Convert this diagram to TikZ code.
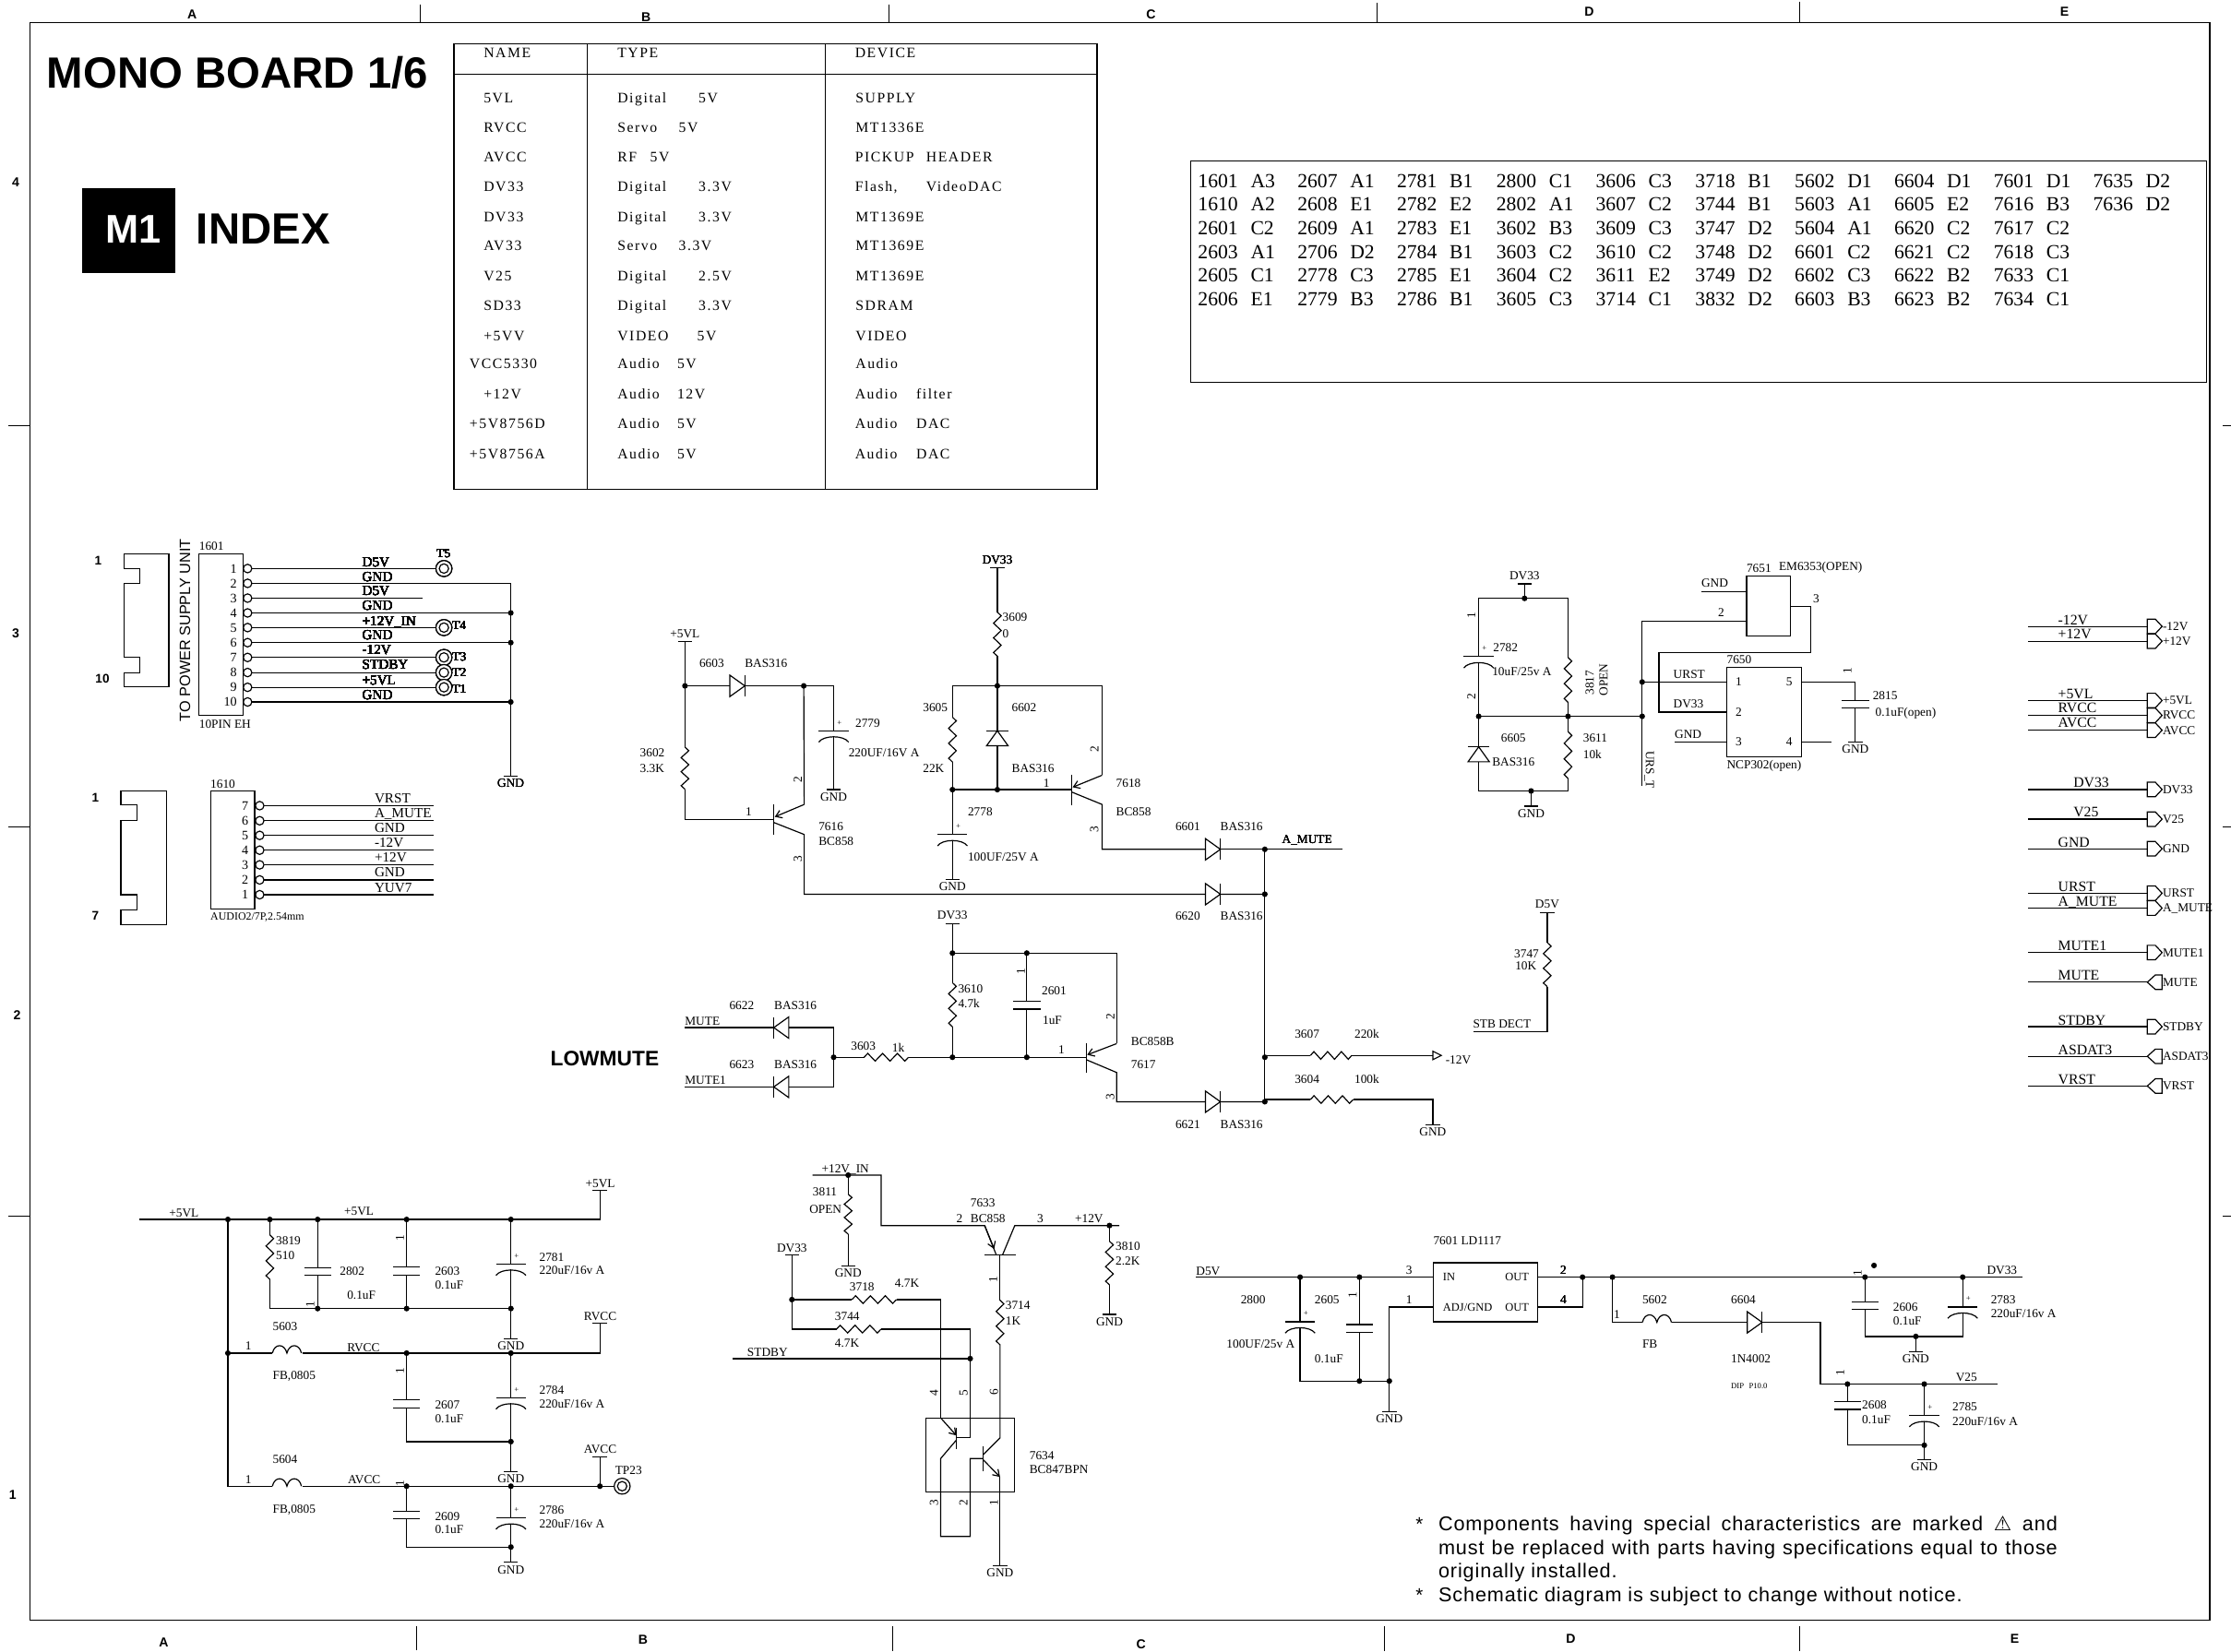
\documentclass[tikz,border=0pt]{standalone}
\usepackage{fontspec}
\setmainfont{Liberation Serif}
\setsansfont{Liberation Sans}
\newfontfamily\warnfont{DejaVu Sans}
\newfontfamily\tblfont[LetterSpace=10]{Liberation Serif}
\newfontfamily\notefont[LetterSpace=4]{Liberation Sans}
\usetikzlibrary{calc,arrows.meta}
\newlength\uu \setlength\uu{0.05cm}
\newcounter{lb}
\tikzset{lab/.style={inner sep=0pt,outer sep=0pt,text=black},
 emi/.style={-{Straight Barb[length=6pt,width=8pt]}},
 wire/.style={line width=1.1pt,line join=miter},
 tick/.style={line width=0.7pt}}
\newcommand\Tx[4][12.3]{\stepcounter{lb}\node[lab,anchor=base west] (t\thelb) at ($(#2,#3)+(0pt,-0.33*#1pt)$) {\fontsize{#1}{#1}\selectfont #4};}
\newcommand\Ce[4][12.3]{\stepcounter{lb}\node[lab,anchor=base] (t\thelb) at ($(#2,#3)+(0pt,-0.33*#1pt)$) {\fontsize{#1}{#1}\selectfont #4};}
\newcommand\Ro[4][12.3]{\stepcounter{lb}\node[lab,rotate=90] (t\thelb) at (#2,#3) {\fontsize{#1}{#1}\selectfont #4};}
\newcommand\SB[4][13]{\stepcounter{lb}\node[lab] (t\thelb) at (#2,#3) {\fontsize{#1}{#1}\selectfont\sffamily\bfseries #4};}
\newcommand\Rz[2]{\draw (#1) -- ($(#1)!.0833!(#2)!2.7\uu!90:(#2)$) -- ($(#1)!.25!(#2)!2.7\uu!-90:(#2)$) -- ($(#1)!.4167!(#2)!2.7\uu!90:(#2)$) -- ($(#1)!.5833!(#2)!2.7\uu!-90:(#2)$) -- ($(#1)!.75!(#2)!2.7\uu!90:(#2)$) -- ($(#1)!.9167!(#2)!2.7\uu!-90:(#2)$) -- (#2);}
\newcommand\Jn[2]{\fill (#1,#2) circle[radius=2\uu];}
\newcommand\Brr[2]{\draw ($(#1,#2)+(-5\uu,0pt)$) -- ($(#1,#2)+(5\uu,0pt)$);}
\newcommand\Gd[3]{\Brr{#1}{#2}\Ce{#1}{#3}{GND}}
\newcommand\CapN[2]{\begin{scope}[shift={(#1,#2)},x=\uu,y=-\uu]\fill[white] (-3,-2.3) rectangle (3,2.3);\draw (-9.5,-2.7)--(9.5,-2.7) (-9.5,2.7)--(9.5,2.7);\end{scope}}
\newcommand\CapP[2]{\begin{scope}[shift={(#1,#2)},x=\uu,y=-\uu]\fill[white] (-3,0.4) rectangle (3,3.9);\draw (-10.5,0)--(10.5,0);\draw (-10.5,8) .. controls (-7,3) and (7,3) .. (10.5,8);\node[lab] at (4,-5.5) {\fontsize{8}{8}\selectfont +};\end{scope}}
\newcommand\Dio[3]{\begin{scope}[shift={(#1,#2)},rotate=#3,x=\uu,y=\uu]\filldraw[fill=white] (-10.5,-7.5)--(-10.5,7.5)--(0,0)--cycle;\draw (0,-7.5)--(0,7.5);\end{scope}}
\newcommand\Lz[2]{\begin{scope}[shift={(#1,#2)},x=\uu,y=\uu]\draw (0,0) .. controls (1.5,7) and (8.5,7) .. (10.2,0) .. controls (11.9,7) and (18.9,7) .. (20.4,0);\end{scope}}
\newcommand\TP[2]{\filldraw[fill=white] (#1,#2) circle[radius=5.6\uu];\draw (#1,#2) circle[radius=3.3\uu];}
\newcommand\Pc[2]{\filldraw[fill=white] (#1,#2) circle[radius=3\uu];}
\newcommand\Flg[2]{\draw (442,#1-22)--(468,#1-22)--(490,#1)--(468,#1+22)--(442,#1+22)--cycle;\draw (55,#1)--(442,#1);\Tx{492}{#1}{#2}}
\newcommand\Flh[2]{\draw (442,#1)--(468,#1-22)--(490,#1-22)--(490,#1+22)--(468,#1+22)--cycle;\draw (55,#1)--(442,#1);\Tx{492}{#1}{#2}}
\newcommand\IdxRow[2]{\foreach \n/\l [count=\i from 0] in {#2}{\stepcounter{lb}\node[lab,anchor=base west] (i\thelb) at ({842+69.9*\i},#1+5) {\fontsize{20}{20}\selectfont \n};\stepcounter{lb}\node[lab,anchor=base west] (i\thelb) at ({879+69.9*\i},#1+5) {\fontsize{20}{20}\selectfont \l};}}
\begin{document}
\begin{tikzpicture}[x=0.05cm,y=-0.05cm,wire]
\useasboundingbox (0,0) rectangle (1568,1161);
\fill[white] (0,0) rectangle (1568,1161);
% frame
\draw[line width=1.5pt] (21,16) rectangle (1553,1139);
\foreach \x/\t in {295/3,624.5/3,968/2,1265/1} \draw[tick] (\x,\t)--(\x,16);
\foreach \x/\t in {293/1160,627/1161,973/1161,1265/1161} \draw[tick] (\x,1143)--(\x,\t);
\foreach \y in {299,581,855} {\draw[tick] (6,\y)--(21,\y); \draw[tick] (1562,\y)--(1568,\y);}
\SB{135}{10}{A}\SB{454}{12}{B}\SB{809}{10}{C}\SB{1117}{8}{D}\SB{1451}{8}{E}
\SB{115}{1155}{A}\SB{452}{1153}{B}\SB{802}{1156}{C}\SB{1104}{1152}{D}\SB{1416}{1152}{E}
\SB{11}{128}{4}\SB{11}{445}{3}\SB{12}{714}{2}\SB{9}{1051}{1}
% titles
\SB[43.7]{167}{51}{MONO BOARD 1/6}
\fill (58,132) rectangle (123,192);
\stepcounter{lb}\node[lab,text=white] (m1) at (93.5,161) {\fontsize{40}{40}\selectfont\sffamily\bfseries M1};
\SB[43.7]{185}{161}{INDEX}
\SB[21]{425}{744}{LOWMUTE}
% table
\draw (319,31) rectangle (771,344);
\draw (319,52)--(771,52) (413,31)--(413,344) (580,31)--(580,344);
\Tx[14.5]{340}{37}{\tblfont NAME}\Tx[14.5]{434}{37}{\tblfont TYPE}\Tx[14.5]{601}{37}{\tblfont DEVICE}
\foreach \y/\a/\ax in {69/5VL/340,90/RVCC/340,110.5/AVCC/340,131/DV33/340,152.5/DV33/340,173/AV33/340,194/V25/340,215/SD33/340,236/+5VV/340,256/VCC5330/330,277/+12V/340,298/+5V8756D/330,319/+5V8756A/330}{\Tx[14.5]{\ax}{\y}{\tblfont \a}}
\foreach \y/\a/\b/\w in {69/Digital/5V/57,90/Servo/5V/43,110.5/RF/5V/23,131/Digital/3.3V/57,152.5/Digital/3.3V/57,173/Servo/3.3V/43,194/Digital/2.5V/57,215/Digital/3.3V/57,236/VIDEO/5V/56,256/Audio/5V/42,277/Audio/12V/42,298/Audio/5V/42,319/Audio/5V/42}{\Tx[14.5]{434}{\y}{\tblfont\makebox[\w\uu][l]{\a}\b}}
\foreach \y/\a/\b/\w in {69/SUPPLY//0,90/MT1336E//0,110.5/PICKUP/HEADER/50,131/{Flash,}/VideoDAC/50,152.5/MT1369E//0,173/MT1369E//0,194/MT1369E//0,215/SDRAM//0,236/VIDEO//0,256/Audio//0,277/Audio/filter/43,298/Audio/DAC/43,319/Audio/DAC/43}{\Tx[14.5]{601}{\y}{\tblfont\makebox[\w\uu][l]{\a}\b}}
% index
\draw (837,113) rectangle (1551,269);
\IdxRow{127}{1601/A3,2607/A1,2781/B1,2800/C1,3606/C3,3718/B1,5602/D1,6604/D1,7601/D1,7635/D2}
\IdxRow{143}{1610/A2,2608/E1,2782/E2,2802/A1,3607/C2,3744/B1,5603/A1,6605/E2,7616/B3,7636/D2}
\IdxRow{160}{2601/C2,2609/A1,2783/E1,3602/B3,3609/C3,3747/D2,5604/A1,6620/C2,7617/C2}
\IdxRow{177}{2603/A1,2706/D2,2784/B1,3603/C2,3610/C2,3748/D2,6601/C2,6621/C2,7618/C3}
\IdxRow{193}{2605/C1,2778/C3,2785/E1,3604/C2,3611/E2,3749/D2,6602/C3,6622/B2,7633/C1}
\IdxRow{210}{2606/E1,2779/B3,2786/B1,3605/C3,3714/C1,3832/D2,6603/B3,6623/B2,7634/C1}
% connector 1601
\draw (87,389.4)--(118.7,389.4)--(118.7,483)--(87,483)--(87,473)--(98,473)--(98,462)--(87,462)--(87,410)--(98,410)--(98,399.7)--(87,399.7)--cycle;
\SB[12.5]{69}{394}{1}\SB[12.5]{72}{477}{10}
\stepcounter{lb}\node[lab,rotate=90] (psu) at (130,443) {\fontsize{15}{15}\selectfont\sffamily TO POWER SUPPLY UNIT};
\draw (139.7,389.4) rectangle (171,503);
\Tx{140}{384}{1601}\Tx{140}{509}{10PIN EH}
\foreach \y/\n/\e in {399.7/1/312,410.1/2/359,420.5/3/296.7,430.9/4/359,441.2/5/312,451.8/6/359,462.2/7/312,472.8/8/312,483.2/9/312,493.5/10/359}{
 \draw (174,\y)--(\e,\y); \Pc{174}{\y} \stepcounter{lb}\node[lab,anchor=base east] (p\thelb) at (166.5,\y+3) {\fontsize{13}{13}\selectfont \n};}
\draw (359,410.1)--(359,545.6);
\foreach \y in {430.9,451.8,493.5} \Jn{359}{\y}
\Gd{359}{545.6}{550.6}
\foreach \y in {399.7,441.2,462.2,472.8,483.2} \TP{312}{\y}
\Ce{311.8}{389}{T5}\Tx{318}{440}{T4}\Tx{318}{462}{T3}\Tx{318}{473}{T2}\Tx{318}{484.5}{T1}
\foreach \y/\s in {395.4/D5V,405.8/GND,415.5/D5V,426/GND,436.5/+12V\_IN,446.6/GND,457/-12V,467.4/STDBY,478.2/+5VL,488.3/GND}{\Tx[14]{254.6}{\y}{\s}}
% connector 1610
\draw (85,556)--(117,556)--(117,650)--(85,650)--(85,639.6)--(96.4,639.6)--(96.4,629)--(85,629)--(85,577)--(96.4,577)--(96.4,566)--(85,566)--cycle;
\SB[12.5]{67}{561}{1}\SB[12.5]{67}{644}{7}
\draw (148,556) rectangle (179,639);
\Tx{148}{551}{1610}\Tx[11]{148}{644.6}{AUDIO2/7P,2.54mm}
\foreach \y/\n in {566.4/7,577/6,587.3/5,597.7/4,608/3,618.6/2,629/1}{
 \draw (182.5,\y)--(305,\y); \Pc{182.5}{\y} \stepcounter{lb}\node[lab,anchor=base east] (q\thelb) at (174.5,\y+3) {\fontsize{13}{13}\selectfont \n};}
\foreach \y/\s in {561.4/VRST,571.8/A\_MUTE,582/GND,592.5/-12V,602.9/+12V,613/GND,624/YUV7}{\Tx[14]{263.3}{\y}{\s}}
% right part of mute: 3607/3604
\draw (889,742)--(921,742) (950,742)--(1007,742);\Rz{921,742}{950,742}
\draw (889,773)--(921,773) (951,773)--(1007,773)--(1007,791);\Rz{921,773}{951,773}
\Gd{1007}{791}{796}
\draw (1007,739)--(1013,742)--(1007,745)--cycle;
\Tx{1016}{745}{-12V}
\Tx{910}{727}{3607}\Tx{952}{727}{220k}\Tx{910}{759}{3604}\Tx{952}{759}{100k}
% ---- zoom 2 region
\begin{scope}[shift={(402,376)},x=.016961cm,y=-.014085cm]
\Ce{234}{248}{+5VL}\Brr{234}{266}
\draw (234,266)--(234,530);\Rz{234,530}{234,635}\draw (234,635)--(234,711)--(418,711);
\Jn{234}{377}\Tx{141}{545}{3602}\Tx{141}{582}{3.3K}\Ce{366}{692}{1}
\draw (234,377)--(542,377)--(542,636);\Jn{480}{377}\Gd{542}{636}{655}
\Dio{358}{377}{0}\Tx{264}{321}{6603}\Tx{358}{321}{BAS316}
\CapP{542}{489}\Tx{587}{471}{2779}\Tx{573}{545}{220UF/16V A}
\draw (418,673)--(418,748);\draw (480,377)--(481,673);\draw[emi] (481,673)--(420,704);
\draw (418,718)--(481,748)--(481,897)--(1435,897);
\Ro{468}{610}{2}\Ro{468}{808}{3}\Tx{511}{729}{7616}\Tx{511}{766}{BC858}
\Dio{1343}{897}{0}\Tx{1250}{951}{6620}\Tx{1343}{951}{BAS316}
\draw (1435,785)--(1435,1415);\draw (1343,785)--(1595,785);
\foreach \y in {785,897,1304,1415}\Jn{1435}{\y}
\Tx{1471}{760}{A\_MUTE}
\Ce{881}{62}{DV33}\Brr{881}{82}
\draw (881,82)--(881,193);\Rz{881,193}{881,303}\draw (881,303)--(881,636);\Jn{881}{377}\Jn{881}{636}
\Tx{892}{206}{3609}\Tx{892}{246}{0}
\draw (788,636)--(788,377)--(1098,377)--(1098,600);
\fill[white] (775,455) rectangle (800,567);\Rz{788,455}{788,567}\Jn{788}{636}
\Tx{727}{432}{3605}\Tx{727}{582}{22K}
\Dio{881}{489}{90}\Tx{911}{432}{6602}\Tx{911}{582}{BAS316}
\draw (788,636)--(1035,636);\Ce{983}{620}{1}
\draw (1035,600)--(1035,675);\draw[emi] (1098,600)--(1037,630);
\draw (1035,642)--(1098,673)--(1098,785)--(1313,785);\Dio{1343}{785}{0}
\Ro{1082}{535}{2}\Ro{1082}{735}{3}\Tx{1127}{619}{7618}\Tx{1127}{692}{BC858}
\Tx{1250}{729}{6601}\Tx{1343}{729}{BAS316}
\draw (788,636)--(788,860);\CapP{788}{748}\Gd{788}{860}{877}
\Tx{820}{692}{2778}\Tx{820}{803}{100UF/25V A}
\Ce{788}{950}{DV33}\Brr{788}{970}
\draw (788,970)--(788,1118);\Rz{788,1118}{788,1228}\draw (788,1228)--(788,1304);
\draw (788,1044)--(1128,1044)--(1128,1270);\Jn{788}{1044}\Jn{942}{1044}
\Tx{800}{1133}{3610}\Tx{800}{1171}{4.7k}
\draw (942,1044)--(942,1304);\CapN{942}{1174}\Jn{942}{1304}\Jn{788}{1304}
\Ro{930}{1090}{1}\Tx{973}{1137}{2601}\Tx{975}{1211}{1uF}
\draw (542,1304)--(605,1304);\Rz{605,1304}{697,1304}\draw (697,1304)--(1065,1304);
\Tx{578}{1276}{3603}\Tx{663}{1280}{1k}\Ce{1014}{1285}{1}
\draw (1065,1268)--(1065,1342);\draw[emi] (1128,1270)--(1067,1298);
\draw (1065,1310)--(1128,1342)--(1128,1415)--(1435,1415);\Dio{1343}{1415}{0}
\Ro{1115}{1202}{2}\Ro{1115}{1402}{3}\Tx{1158}{1264}{BC858B}\Tx{1158}{1322}{7617}
\Tx{1250}{1471}{6621}\Tx{1343}{1471}{BAS316}
\draw (234,1230)--(542,1230)--(542,1378)--(234,1378);\Jn{542}{1304}
\Dio{418}{1230}{180}\Dio{418}{1378}{180}
\Tx{234}{1213}{MUTE}\Tx{234}{1361}{MUTE1}\Tx{326}{1174}{6622}\Tx{419}{1174}{BAS316}\Tx{326}{1322}{6623}\Tx{419}{1322}{BAS316}
\end{scope}
% ---- zoom 3 region
\begin{scope}[shift={(1011.7,382.5)},x=.011579cm,y=-.013736cm]
\Ce{258}{82}{DV33}\Brr{258}{102}
\draw (258,102)--(258,139);\Jn{258}{139}
\draw (119,441)--(119,139)--(390,139)--(390,290);\Rz{390,290}{390,405}\draw (390,405)--(390,480);\Rz{390,480}{390,600}
\draw (390,600)--(390,632)--(119,632)--(119,441);
\CapP{119}{288}\Tx{163}{265}{2782}\Tx{160}{326}{10uF/25v A}
\Ro{97}{183}{1}\Ro{97}{390}{2}
\draw (119,441)--(615,441);\Jn{119}{441}\Jn{390}{441}\Jn{615}{441}
\Jn{278}{632}\draw (278,632)--(278,671);\Gd{278}{671}{690}
\Dio{119}{519}{90}\Tx{187}{497}{6605}\Tx{160}{558}{BAS316}
\Tx{436}{497}{3611}\Tx{436}{538}{10k}\Ro{456}{355}{3817}\Ro{498}{347}{OPEN}
\draw (615,620)--(615,198)--(932,198);\Jn{615}{353}
\stepcounter{lb}\node[lab,rotate=-90] (t\thelb) at (636,578) {\fontsize{12.3}{12.3}\selectfont URS\_T};
\Ce{855}{176}{2}\draw (932,82) rectangle (1066,236);
\Tx{932}{62}{7651}\Tx{1030}{58}{EM6353(OPEN)}\Tx{795}{100}{GND}\draw (795,122)--(932,122);
\draw (1066,159)--(1126,159)--(1126,277)--(666,277)--(666,430)--(872,430);\Ce{1143}{140}{3}
\draw (872,315) rectangle (1098,544);\Tx{872}{295}{7650}
\draw (615,353)--(872,353);\Tx{710}{333}{URST}\Tx{710}{409}{DV33}
\draw (714,507)--(872,507);\Tx{714}{488}{GND}
\Ce{908}{352}{1}\Ce{908}{430}{2}\Ce{908}{507}{3}\Ce{1061}{352}{5}\Ce{1061}{507}{4}
\draw (1098,353)--(1262,353)--(1262,507);\CapN{1262}{410}\Gd{1262}{507}{525}
\draw (1098,507)--(1190,507);\Ro{1238}{325}{1}
\Tx{1315}{388}{2815}\Tx{1323}{431}{0.1uF(open)}\Tx{872}{565}{NCP302(open)}
\Ce{327}{922}{D5V}\Brr{327}{943}
\draw (327,943)--(327,1020);\Rz{327,1020}{327,1133}\draw (327,1133)--(327,1248)--(102,1248);
\Tx{227}{1048}{3747}\Tx{230}{1079}{10K}\Tx{102}{1229}{STB DECT}
\end{scope}
% ---- zoom 4 region
\begin{scope}[shift={(84.3,816.9)},x=.012821cm,y=-.010805cm]
\draw (52,187)--(1316,187)--(1316,92);\Brr{1316}{92}\Ce{1317}{70}{+5VL}
\Tx{135}{167}{+5VL}\Tx{615}{160}{+5VL}
\foreach \x in {296,411,542,786,1072}\Jn{\x}{187}
\draw (296,187)--(296,1055)--(418,1055);\Jn{296}{622}\Ce{352}{598}{1}\Ce{352}{1033}{1}
\draw (411,187)--(411,237);\Rz{411,237}{411,382}\draw (411,382)--(411,477)--(1072,477);
\Tx{428}{255}{3819}\Tx{428}{303}{510}
\draw (542,187)--(542,477);\CapN{542}{357}\Jn{542}{477}\Ro{522}{462}{1}\Tx{603}{355}{2802}\Tx{623}{432}{0.1uF}
\draw (786,187)--(786,477);\CapN{786}{355}\Jn{786}{477}\Ro{768}{248}{1}\Tx{864}{355}{2603}\Tx{864}{400}{0.1uF}
\draw (1072,187)--(1072,575);\CapP{1072}{332}\Jn{1072}{477}\Gd{1072}{575}{597}\Tx{1150}{310}{2781}\Tx{1150}{352}{220uF/16v A}
\draw (296,622)--(418,622);\Lz{418}{622}\draw (500,622)--(1316,622)--(1316,525);\Brr{1316}{525}\Ce{1317}{502}{RVCC}
\Tx{419}{535}{5603}\Tx{419}{693}{FB,0805}\Tx{623}{603}{RVCC}\Jn{786}{622}\Jn{1072}{622}
\draw (786,622)--(786,910)--(1072,910);\CapN{786}{787}\Ro{768}{680}{1}\Tx{864}{790}{2607}\Tx{864}{835}{0.1uF}
\draw (1072,622)--(1072,1007);\CapP{1072}{767}\Jn{1072}{910}\Gd{1072}{1007}{1032}\Tx{1150}{742}{2784}\Tx{1150}{787}{220uF/16v A}
\Lz{418}{1055}\draw (500,1055)--(1355,1055);\TP{1377}{1055}
\Jn{786}{1055}\Jn{1072}{1055}\Jn{1316}{1055}\draw (1316,1055)--(1316,960);\Brr{1316}{960}\Ce{1317}{934}{AVCC}
\Tx{1358}{1005}{TP23}\Tx{419}{967}{5604}\Tx{419}{1129}{FB,0805}\Tx{625}{1035}{AVCC}\Ro{768}{1045}{1}
\draw (786,1055)--(786,1253)--(1072,1253);\CapN{786}{1149}\Tx{864}{1153}{2609}\Tx{864}{1195}{0.1uF}
\draw (1072,1055)--(1072,1302);\CapP{1072}{1158}\Jn{1072}{1253}\Gd{1072}{1302}{1327}\Tx{1150}{1132}{2786}\Tx{1150}{1177}{220uF/16v A}
\end{scope}
% ---- zoom 5 region
\begin{scope}[shift={(505.8,803.9)},x=.010805cm,y=-.010805cm]
\draw (302,103)--(525,103)--(525,267)--(862,267)--(900,363);\draw[emi] (862,267)--(893,343);
\Tx{332}{82}{+12V\_IN}\Jn{418}{103}
\draw (418,103)--(418,165);\Rz{418,165}{418,295}\draw (418,295)--(418,398);\Gd{418}{398}{420}
\Tx{303}{157}{3811}\Tx{292}{213}{OPEN}
\draw (862,363)--(962,363);\draw (920,363)--(960,267)--(1300,267);\Jn{1268}{267}
\Tx{816}{193}{7633}\Tx{816}{245}{BC858}\Ce{780}{245}{2}\Ce{1043}{245}{3}\Tx{1156}{245}{+12V}
\draw (912,363)--(912,510);\Rz{912,510}{912,655}\draw (912,655)--(912,958)--(858,1012);
\Ro{890}{443}{1}\Tx{930}{527}{3714}\Tx{930}{578}{1K}\Ro{892}{810}{6}
\draw (1268,267)--(1268,318);\Rz{1268,318}{1268,460}\draw (1268,460)--(1268,556);\Gd{1268}{556}{580}
\Tx{1288}{335}{3810}\Tx{1288}{383}{2.2K}
\Ce{235}{340}{DV33}\Brr{235}{363}\draw (235,363)--(235,604)--(380,604);\Jn{235}{508}
\draw (235,508)--(430,508);\Rz{430,508}{575,508}\draw (575,508)--(719,508)--(719,893);
\Tx{423}{467}{3718}\Tx{570}{455}{4.7K}
\Rz{380,604}{525,604}\draw (525,604)--(815,604)--(815,957)--(770,957);
\Tx{375}{563}{3744}\Tx{375}{650}{4.7K}
\draw (42,700)--(815,700);\Jn{815}{700}\Tx{90}{680}{STDBY}
\Ro{697}{812}{4}\Ro{793}{812}{5}
\draw (670,893) rectangle (960,1135);
\draw (770,925)--(770,995);\draw[emi] (719,893)--(770,950);
\draw (770,965)--(719,1025)--(719,1279)--(815,1279)--(815,1025)--(858,1025);
\draw (858,985)--(858,1065);\draw[emi] (858,1030)--(912,1085);
\draw (912,1085)--(912,1375);\Gd{912}{1375}{1398}
\Ro{697}{1168}{3}\Ro{793}{1168}{2}\Ro{892}{1168}{1}\Tx{1008}{1015}{7634}\Tx{1008}{1062}{BC847BPN}
\end{scope}
% ---- zoom 6 region
\begin{scope}[shift={(823.6,868.7)},x=.019849cm,y=-.010805cm]
\draw (43,135)--(463,135);\Tx{43}{115}{D5V}\Jn{227}{135}\Jn{332}{135}
\draw (463,88) rectangle (647,280);\Tx{463}{15}{7601 LD1117}
\Ce{420}{113}{3}\Ce{420}{208}{1}\Tx[11.5]{480}{135}{IN}\Tx[11.5]{480}{232}{ADJ/GND}\Tx[11.5]{590}{135}{OUT}\Tx[11.5]{590}{232}{OUT}
\draw (227,135)--(227,473)--(385,473);\CapP{227}{280}\Tx{122}{208}{2800}\Tx{97}{352}{100UF/25v A}
\draw (332,135)--(332,473);\CapN{332}{302}\Jn{332}{473}\Jn{385}{473}\Tx{253}{208}{2605}\Tx{253}{400}{0.1uF}\Ro{320}{195}{1}
\draw (463,232)--(385,232)--(385,572);\Gd{385}{572}{595}
\draw (647,135)--(1505,135);\draw (647,232)--(727,232)--(727,135);
\foreach \x in {727,780,1227,1400}\Jn{\x}{135}
\Ce{693}{113}{2}\Ce{693}{208}{4}
\draw (780,135)--(780,282)--(833,282);\Lz{833}{282}\draw (885,282)--(1148,282)--(1148,483)--(1462,483);\Dio{1045}{282}{0}
\Ce{788}{257}{1}\Tx{833}{208}{5602}\Tx{833}{352}{FB}\Tx{990}{208}{6604}\Tx{990}{400}{1N4002}\Tx[8]{990}{488}{DIP\hspace{5pt}P10.0}
\Jn{1243}{97}\Ro{1214}{123}{1}\Tx{1443}{113}{DV33}
\draw (1227,135)--(1227,328)--(1400,328)--(1400,135);\CapN{1227}{228}\CapP{1400}{232}\Jn{1317}{328}
\draw (1317,328)--(1317,377);\Gd{1317}{377}{400}
\Tx{1277}{232}{2606}\Tx{1277}{278}{0.1uF}\Tx{1450}{208}{2783}\Tx{1450}{253}{220uF/16v A}
\Jn{1196}{483}\Jn{1332}{483}\Tx{1388}{462}{V25}
\draw (1196,483)--(1196,682)--(1332,682);\CapN{1196}{553}
\draw (1332,483)--(1332,730);\CapP{1332}{585}\Jn{1332}{682}\Gd{1332}{730}{753}
\Tx{1222}{550}{2608}\Tx{1222}{598}{0.1uF}\Tx{1382}{558}{2785}\Tx{1382}{604}{220uF/16v A}\Ro{1183}{447}{1}
\end{scope}
% ---- zoom 7 region
\begin{scope}[shift={(1413.7,414.9)},x=.010805cm,y=-.011577cm]
\Flg{110}{-12V}\Flg{155}{+12V}\Flg{335}{+5VL}\Flg{380}{RVCC}\Flg{425}{AVCC}
\Flg{605}{DV33}\Flg{695}{V25}\Flg{785}{GND}\Flg{920}{URST}\Flg{965}{A\_MUTE}
\Flg{1100}{MUTE1}\Flh{1190}{MUTE}\Flg{1325}{STDBY}\Flh{1415}{ASDAT3}\Flh{1505}{VRST}
\foreach \y/\s in {90/-12V,133/+12V,315/+5VL,358/RVCC,403/AVCC,765/GND,900/URST,944/A\_MUTE,1080/MUTE1,1168/MUTE,1305/STDBY,1395/ASDAT3,1485/VRST}{\Tx[14.5]{152}{\y}{\s}}
\Tx[14.5]{202}{583}{DV33}\Tx[14.5]{202}{673}{V25}
\end{scope}
% note
\stepcounter{lb}\node[lab,anchor=base west] (s1) at (995,1076) {\fontsize{19}{19}\selectfont\sffamily *};
\stepcounter{lb}\node[lab,anchor=base west] (s2) at (995,1126) {\fontsize{19}{19}\selectfont\sffamily *};
\stepcounter{lb}\node[lab,anchor=base west] (n1) at (1011,1076) {\fontsize{20}{20}\selectfont\notefont\makebox[435\uu][s]{Components having special characteristics are marked {\warnfont\fontsize{20}{20}\selectfont ⚠} and}};
\stepcounter{lb}\node[lab,anchor=base west] (n2) at (1011,1093) {\fontsize{20}{20}\selectfont\notefont\makebox[435\uu][s]{must be replaced with parts having specifications equal to those}};
\stepcounter{lb}\node[lab,anchor=base west] (n3) at (1011,1109) {\fontsize{20}{20}\selectfont\notefont originally installed.};
\stepcounter{lb}\node[lab,anchor=base west] (n4) at (1011,1126) {\fontsize{20}{20}\selectfont\notefont Schematic diagram is subject to change without notice.};
\end{tikzpicture}
\end{document}
